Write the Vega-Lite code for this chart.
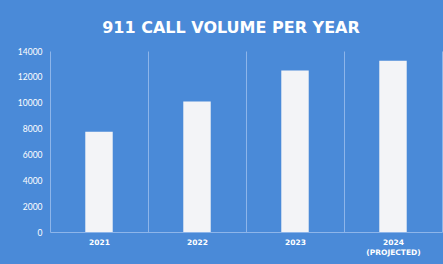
{
  "$schema": "https://vega.github.io/schema/vega-lite/v6.json",
  "width": 392,
  "height": 181,
  "autosize": {"type": "none"},
  "padding": {"left": 50, "top": 51, "right": 1, "bottom": 32},
  "background": "#4a8ad8",
  "title": {
    "text": "911 CALL VOLUME PER YEAR",
    "color": "#ffffff",
    "font": "DejaVu Sans",
    "fontSize": 16,
    "fontWeight": "bold",
    "anchor": "middle",
    "dx": -15,
    "offset": 11
  },
  "data": {
    "values": [
      {"year": "2021", "calls": 7750},
      {"year": "2022", "calls": 10100},
      {"year": "2023", "calls": 12500},
      {"year": "2024 (PROJECTED)", "calls": 13250}
    ]
  },
  "mark": {"type": "bar", "color": "#f3f4f7", "width": {"band": 0.28}},
  "encoding": {
    "x": {
      "field": "year",
      "type": "nominal",
      "sort": null,
      "scale": {"paddingInner": 0, "paddingOuter": 0},
      "axis": {
        "title": null,
        "labelAngle": 0,
        "ticks": false,
        "tickBand": "extent",
        "grid": true,
        "gridColor": "#8db5ea",
        "gridWidth": 1,
        "domainColor": "#8db5ea",
        "labelColor": "#ffffff",
        "labelFont": "DejaVu Sans",
        "labelFontSize": 7.5,
        "labelFontWeight": "bold",
        "labelPadding": 6,
        "labelLineHeight": 10,
        "labelExpr": "datum.label == '2024 (PROJECTED)' ? ['2024', '(PROJECTED)'] : datum.label"
      }
    },
    "y": {
      "field": "calls",
      "type": "quantitative",
      "scale": {"domain": [0, 14000], "nice": false},
      "axis": {
        "title": null,
        "values": [0, 2000, 4000, 6000, 8000, 10000, 12000, 14000],
        "format": "d",
        "grid": false,
        "domain": false,
        "ticks": false,
        "labelColor": "#ffffff",
        "labelFont": "Lato",
        "labelFontSize": 8.5,
        "labelPadding": 8
      }
    }
  },
  "config": {"view": {"stroke": null}}
}
